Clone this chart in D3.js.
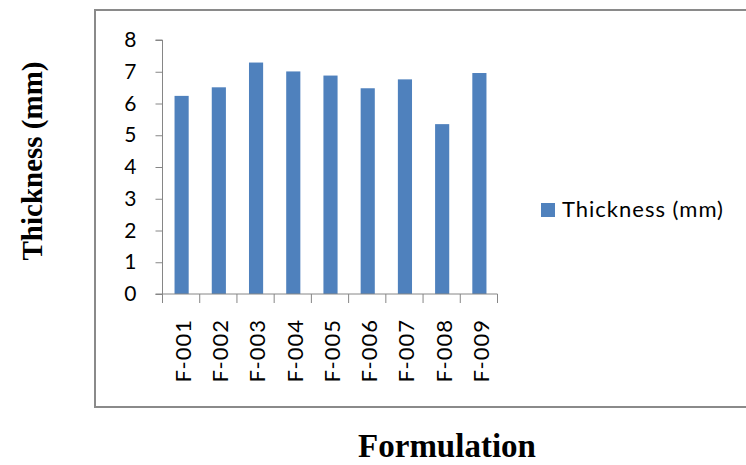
<!DOCTYPE html>
<html>
<head>
<meta charset="utf-8">
<script src="https://cdn.jsdelivr.net/npm/d3@7"></script>
<style>
  html, body { margin: 0; padding: 0; background: #fff; }
  svg { display: block; }
</style>
</head>
<body>
<svg id="chart" width="746" height="465"></svg>
<script>
const categories = ["F-001", "F-002", "F-003", "F-004", "F-005", "F-006", "F-007", "F-008", "F-009"];
const thickness = [6.24, 6.51, 7.29, 7.01, 6.88, 6.48, 6.76, 5.35, 6.96];
const yTicks = [0, 1, 2, 3, 4, 5, 6, 7, 8];
const seriesName = "Thickness (mm)";
const xTitle = "Formulation";
const yTitle = "Thickness (mm)";

const svg = d3.select("#chart");

// outer chart-area border (right edge runs off the picture)
svg.append("rect")
  .attr("x", 95).attr("y", 10)
  .attr("width", 700).attr("height", 397)
  .attr("fill", "none").attr("stroke", "#8a8a8a").attr("stroke-width", 2);

const plot = { left: 162.5, right: 497.5, top: 40, bottom: 294 };

const x = d3.scaleBand().domain(categories).range([plot.left, plot.right]).padding(0);
const y = d3.scaleLinear().domain([0, 8]).range([plot.bottom, plot.top]);

const axisColor = "#868686";
const font = "Lato, 'Open Sans', sans-serif";

// bars
const bw = x.step() * 0.38;
svg.append("g").selectAll("rect").data(categories).join("rect")
  .attr("x", (d) => x(d) + x.step() / 2 - bw / 2 + 0.5)
  .attr("y", (d, i) => y(thickness[i]))
  .attr("width", bw)
  .attr("height", (d, i) => y(0) - y(thickness[i]))
  .attr("fill", "#4f81bd");

// y axis
const yAxis = d3.axisLeft(y).tickValues(yTicks).tickSize(7).tickPadding(19).tickFormat(d3.format("d"));
const gy = svg.append("g").attr("transform", `translate(${plot.left},0)`).call(yAxis);
gy.select(".domain").attr("stroke", axisColor).attr("d", `M-7,${plot.top}H0V${plot.bottom}H-7`);
gy.selectAll(".tick line").attr("stroke", axisColor);
gy.selectAll(".tick text").attr("fill", "#000").style("font-family", font).style("font-size", "21px");

// x axis: line + boundary ticks
const gx = svg.append("g");
gx.append("line")
  .attr("x1", plot.left).attr("x2", plot.right)
  .attr("y1", plot.bottom).attr("y2", plot.bottom)
  .attr("stroke", axisColor);
const bounds = categories.map((d) => x(d)).concat([plot.right]);
gx.selectAll("line.b").data(bounds).join("line").attr("class", "b")
  .attr("x1", (d) => d).attr("x2", (d) => d)
  .attr("y1", plot.bottom).attr("y2", plot.bottom + 9)
  .attr("stroke", axisColor);
gx.selectAll("text").data(categories).join("text")
  .attr("transform", (d) => `translate(${x(d) + x.step() / 2 + 2},${319}) rotate(-90)`)
  .attr("text-anchor", "end")
  .attr("dy", "0.36em")
  .style("font-family", font).style("font-size", "22px").style("letter-spacing", "1px")
  .text((d) => d);

// legend
svg.append("rect").attr("x", 541).attr("y", 203).attr("width", 14).attr("height", 14).attr("fill", "#4f81bd");
svg.append("text").attr("x", 562).attr("y", 217)
  .style("font-family", font).style("font-size", "22px").style("letter-spacing", "1px")
  .text(seriesName);

// axis titles
svg.append("text")
  .attr("transform", `translate(42,161) rotate(-90)`)
  .attr("text-anchor", "middle")
  .style("font-family", "'Liberation Serif', 'Times New Roman', serif")
  .style("font-weight", "bold").style("font-size", "29px")
  .text(yTitle);
svg.append("text")
  .attr("x", 447).attr("y", 457)
  .attr("text-anchor", "middle")
  .style("font-family", "'Liberation Serif', 'Times New Roman', serif")
  .style("font-weight", "bold").style("font-size", "33px")
  .text(xTitle);
</script>
</body>
</html>
